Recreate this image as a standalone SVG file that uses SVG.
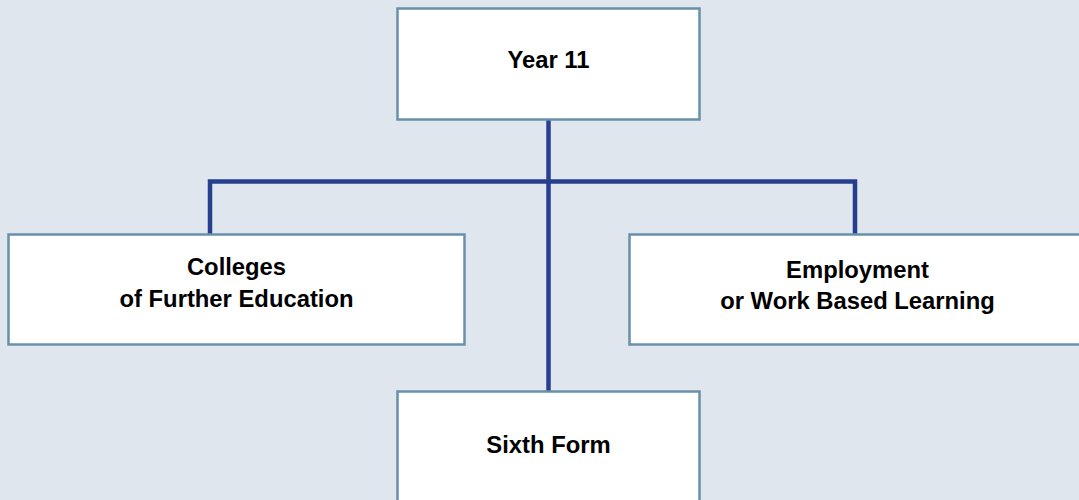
<svg xmlns="http://www.w3.org/2000/svg" width="1079" height="500" viewBox="0 0 1079 500">
<style>
.box{fill:#ffffff;stroke:#6890aa;stroke-width:2.5}
.lbl{font-family:"Liberation Sans",Arial,sans-serif;font-weight:bold;font-size:23.8px;fill:#000;text-anchor:middle}
.conn{fill:none;stroke:#263f8e;stroke-width:4.5}
</style>
<rect width="1079" height="500" fill="#dfe6ed"/>
<g id="connectors">
<line class="conn" x1="548.5" y1="119" x2="548.5" y2="391"/>
<polyline class="conn" points="210,234 210,181.5 855,181.5 855,234"/>
</g>
<g id="year11">
<rect class="box" x="397.5" y="8.5" width="302" height="111"/>
<text class="lbl" x="548.5" y="68">Year 11</text>
</g>
<g id="colleges">
<rect class="box" x="8.5" y="234.5" width="456" height="110"/>
<text class="lbl" x="236.5" y="275">Colleges</text>
<text class="lbl" x="236.5" y="307">of Further Education</text>
</g>
<g id="employment">
<rect class="box" x="629.5" y="234.5" width="460" height="110"/>
<text class="lbl" x="857.5" y="278">Employment</text>
<text class="lbl" x="857.5" y="309">or Work Based Learning</text>
</g>
<g id="sixthform">
<rect class="box" x="397.5" y="391.5" width="302" height="120"/>
<text class="lbl" x="548.5" y="453">Sixth Form</text>
</g>
</svg>
